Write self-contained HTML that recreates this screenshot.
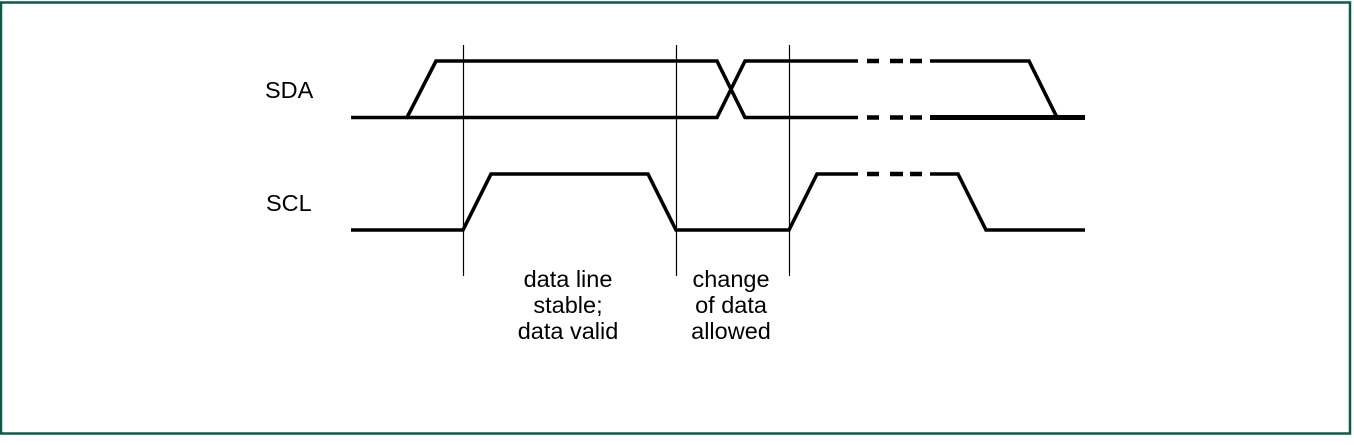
<!DOCTYPE html>
<html><head><style>html,body{margin:0;padding:0;background:#fff}</style></head><body>
<svg width="1354" height="440" viewBox="0 0 1354 440" xmlns="http://www.w3.org/2000/svg">
<rect x="1" y="2.5" width="1349" height="431" fill="#fff" stroke="#0b5a4a" stroke-width="2.5"/>
<g font-family="Liberation Sans, sans-serif" font-size="23.5" fill="#000">
<text x="265" y="98">SDA</text>
<text x="266" y="211">SCL</text>
<g text-anchor="middle">
<text x="568" y="287">data line</text>
<text x="568" y="313">stable;</text>
<text x="568" y="339">data valid</text>
<text x="731" y="287">change</text>
<text x="731" y="313">of data</text>
<text x="731" y="339">allowed</text>
</g></g>
<g stroke="#000" stroke-width="1.2">
<line x1="463.5" y1="45" x2="463.5" y2="276"/>
<line x1="676.5" y1="45" x2="676.5" y2="276"/>
<line x1="789.5" y1="45" x2="789.5" y2="276"/>
</g>
<g stroke="#000" stroke-width="3.6" fill="none" stroke-linejoin="miter">
<polyline points="351,117.5 407,117.5 436,61 717,61 745,117.5 858,117.5"/>
<polyline points="407,117.5 717,117.5 745,61 858,61"/>
<polyline points="930,61 1029,61 1057,117.5"/>
<line x1="930" y1="117.5" x2="1085" y2="117.5" stroke-width="5"/>
<polyline points="351,230 463,230 491,174 648,174 676,230 789,230 817,174 858,174"/>
<polyline points="930,174 958,174 986,230 1085,230"/>
<g stroke-width="4.5">
<line x1="867" y1="61" x2="879" y2="61"/><line x1="890" y1="61" x2="903" y2="61"/><line x1="910" y1="61" x2="922" y2="61"/>
<line x1="867" y1="117.5" x2="879" y2="117.5"/><line x1="890" y1="117.5" x2="903" y2="117.5"/><line x1="910" y1="117.5" x2="922" y2="117.5"/>
<line x1="867" y1="174" x2="879" y2="174"/><line x1="890" y1="174" x2="903" y2="174"/><line x1="910" y1="174" x2="922" y2="174"/>
</g></g>
</svg>
</body></html>
